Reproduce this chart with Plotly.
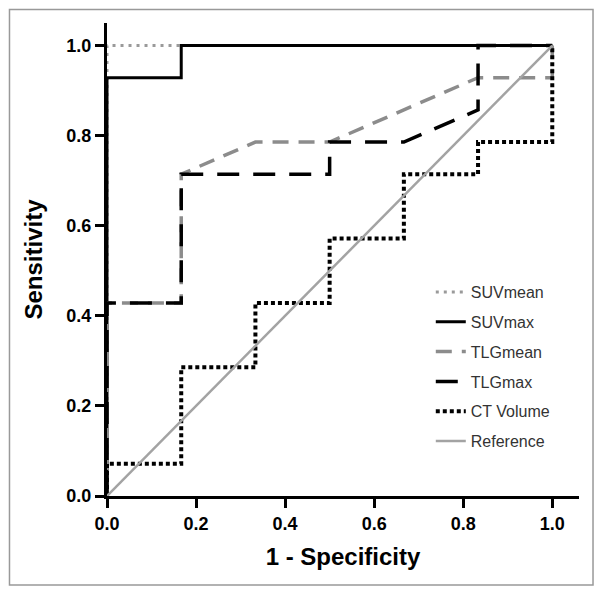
import plotly.graph_objects as go

# ROC curve data (1 - specificity, sensitivity)
suvmean_x = [0, 0, 1]
suvmean_y = [0, 1, 1]

suvmax_x = [0, 0, 0.1667, 0.1667, 1]
suvmax_y = [0, 0.9286, 0.9286, 1, 1]

tlgmean_x = [0, 0, 0.1667, 0.1667, 0.3333, 0.5, 0.8333, 1, 1]
tlgmean_y = [0, 0.4286, 0.4286, 0.7143, 0.7857, 0.7857, 0.9286, 0.9286, 1]

tlgmax_x = [0, 0, 0.1667, 0.1667, 0.5, 0.5, 0.6667, 0.8333, 0.8333, 1]
tlgmax_y = [0, 0.4286, 0.4286, 0.7143, 0.7143, 0.7857, 0.7857, 0.8571, 1, 1]

ct_x = [0, 0, 0.1667, 0.1667, 0.3333, 0.3333, 0.5, 0.5, 0.6667, 0.6667, 0.8333, 0.8333, 1, 1]
ct_y = [0, 0.0714, 0.0714, 0.2857, 0.2857, 0.4286, 0.4286, 0.5714, 0.5714, 0.7143, 0.7143, 0.7857, 0.7857, 1]

ref_x = [0, 1]
ref_y = [0, 1]

tick_vals = [0.0, 0.2, 0.4, 0.6, 0.8, 1.0]
tick_text = ["0.0", "0.2", "0.4", "0.6", "0.8", "1.0"]

FONT = "Liberation Sans, Arial, Helvetica, sans-serif"

series = [
    ("SUVmean", suvmean_x, suvmean_y, dict(color="#9a9a9a", width=3, dash="3px,5px")),
    ("SUVmax", suvmax_x, suvmax_y, dict(color="#000000", width=3)),
    ("TLGmean", tlgmean_x, tlgmean_y, dict(color="#8c8c8c", width=3.5, dash="16px,10px")),
    ("TLGmax", tlgmax_x, tlgmax_y, dict(color="#000000", width=3.5, dash="22px,14px")),
    ("CT Volume", ct_x, ct_y, dict(color="#000000", width=4, dash="4px,3px")),
    ("Reference", ref_x, ref_y, dict(color="#a3a3a3", width=2.5)),
]

fig = go.Figure()
for name, xs, ys, ln in series:
    fig.add_trace(go.Scatter(x=xs, y=ys, mode="lines", name=name, line=ln,
                             legendgroup=name, hoverinfo="skip"))

axis_common = dict(
    showline=True, linecolor="black", linewidth=3,
    ticks="outside", ticklen=9, tickwidth=3, tickcolor="black",
    showgrid=False, zeroline=False,
    tickvals=tick_vals, ticktext=tick_text,
    tickfont=dict(family=FONT, size=18, color="black", weight="bold"),
    mirror=False, automargin=False,
)

fig.update_xaxes(range=[0, 1.06], title=dict(text="1 - Specificity",
                 font=dict(family=FONT, size=24, color="black", weight="bold"), standoff=16),
                 **axis_common)
fig.update_yaxes(range=[0, 1.05], title=dict(text="Sensitivity",
                 font=dict(family=FONT, size=24, color="black", weight="bold"), standoff=17),
                 **axis_common)

fig.update_layout(
    width=596, height=587,
    margin=dict(l=99, r=25, t=15, b=99),
    plot_bgcolor="white", paper_bgcolor="white",
    showlegend=True,
    legend=dict(x=0.686, y=0.467, xanchor="left", yanchor="top",
                font=dict(family=FONT, size=16, color="#333333"),
                bgcolor="rgba(0,0,0,0)", tracegroupgap=6, traceorder="grouped"),
    shapes=[dict(type="rect", xref="paper", yref="paper",
                 x0=-0.2066, x1=1.0297, y0=-0.188, y1=1.0285,
                 line=dict(color="#999999", width=1.5), fillcolor="rgba(0,0,0,0)")],
)

fig.write_html("out.html")
